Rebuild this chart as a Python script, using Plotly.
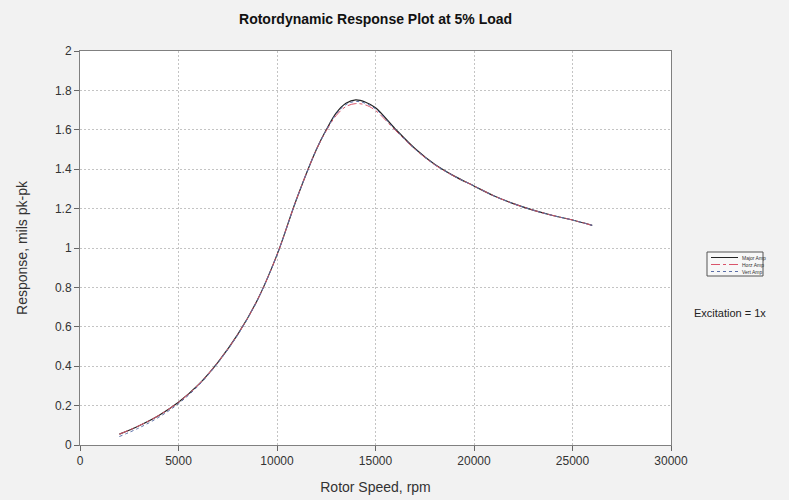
import plotly.graph_objects as go

# Rotor speed (rpm)
speed = [2000, 3000, 4000, 5000, 6000, 7000, 8000, 9000, 10000, 11000, 12000,
         12500, 13000, 13500, 14000, 14500, 15000, 16000, 17000, 18000, 19000,
         20000, 21000, 22000, 23000, 24000, 25000, 26000]

# Response, mils pk-pk
major_amp = [0.055, 0.098, 0.150, 0.217, 0.305, 0.420, 0.560, 0.735, 0.965, 1.25, 1.50,
             1.60, 1.685, 1.735, 1.752, 1.740, 1.712, 1.605, 1.505, 1.425, 1.365,
             1.315, 1.265, 1.225, 1.192, 1.165, 1.142, 1.115]
horz_amp = [0.055, 0.098, 0.150, 0.217, 0.305, 0.420, 0.560, 0.735, 0.965, 1.25, 1.50,
            1.595, 1.672, 1.718, 1.733, 1.726, 1.698, 1.598, 1.502, 1.423, 1.364,
            1.315, 1.265, 1.225, 1.192, 1.165, 1.142, 1.115]
vert_amp = [0.043, 0.087, 0.141, 0.210, 0.300, 0.417, 0.558, 0.734, 0.965, 1.25, 1.50,
            1.598, 1.680, 1.728, 1.744, 1.734, 1.706, 1.602, 1.503, 1.424, 1.364,
            1.315, 1.265, 1.225, 1.192, 1.165, 1.142, 1.115]

series_names = ["Major Amp", "Horz Amp", "Vert Amp"]
series_values = [major_amp, horz_amp, vert_amp]
series_lines = [
    dict(color="#222222", width=1.2, dash="solid"),
    dict(color="#d9546a", width=1, dash="dashdot"),
    dict(color="#5b6fa8", width=1, dash="dot"),
]

FONT = "Liberation Sans, Arial"

fig = go.Figure()
for name, vals, line in zip(series_names, series_values, series_lines):
    fig.add_trace(go.Scatter(
        x=speed, y=vals, name=name, mode="lines",
        line=dict(shape="spline", **line),
        showlegend=False,
    ))

axis_common = dict(
    showline=True, linecolor="#808080", linewidth=1, mirror=True,
    ticks="outside", ticklen=5, tickcolor="#666666",
    showgrid=True, gridcolor="#c4c4c4", griddash="2px,2px", gridwidth=1,
    zeroline=False, automargin=False,
    tickfont=dict(size=12, color="#333333", family=FONT),
)

L, R, T, B = 80, 118, 51, 55
W, H = 789, 500

fig.update_layout(
    width=W, height=H,
    paper_bgcolor="#f2f2f2", plot_bgcolor="#ffffff",
    margin=dict(l=L, r=R, t=T, b=B),
    title=dict(
        text="<b>Rotordynamic Response Plot at 5% Load</b>",
        x=0.476, xanchor="center", y=1 - 19 / H, yanchor="middle",
        font=dict(size=14, color="#111111", family=FONT),
    ),
    xaxis=dict(
        range=[0, 30000], tickvals=[0, 5000, 10000, 15000, 20000, 25000, 30000],
        tickformat="d",
        title=dict(text="Rotor Speed, rpm", standoff=14,
                   font=dict(size=14, color="#333333", family=FONT)),
        **axis_common,
    ),
    yaxis=dict(
        range=[0, 2], dtick=0.2,
        title=dict(text="Response, mils pk-pk", standoff=24,
                   font=dict(size=14, color="#333333", family=FONT)),
        **axis_common,
    ),
    showlegend=False,
)

# small boxed legend to the right of the plot (pixel positions -> paper coords)
pw, ph = W - L - R, H - T - B


def px(x):
    return (x - L) / pw


def py(y):
    return (H - B - y) / ph


fig.add_shape(type="rect", xref="paper", yref="paper",
              x0=px(707), x1=px(763), y0=py(276), y1=py(252),
              line=dict(color="#555555", width=1), fillcolor="#f7f7f7")
for i, (name, line) in enumerate(zip(series_names, series_lines)):
    yy = 257.5 + i * 7
    fig.add_shape(type="line", xref="paper", yref="paper",
                  x0=px(711), x1=px(738), y0=py(yy), y1=py(yy),
                  line=dict(color=line["color"], width=1, dash=line["dash"]))
    fig.add_annotation(text=name, xref="paper", yref="paper",
                       x=px(740), y=py(yy), xanchor="left", yanchor="middle",
                       showarrow=False,
                       font=dict(size=5, color="#333333", family=FONT))

fig.add_annotation(
    text="Excitation = 1x", xref="paper", yref="paper",
    x=px(730), y=py(313), showarrow=False, xanchor="center", yanchor="middle",
    font=dict(size=11, color="#222222", family=FONT),
)

fig.write_html("out.html", config={"displayModeBar": False},
               post_script="document.body.style.margin='0';")
